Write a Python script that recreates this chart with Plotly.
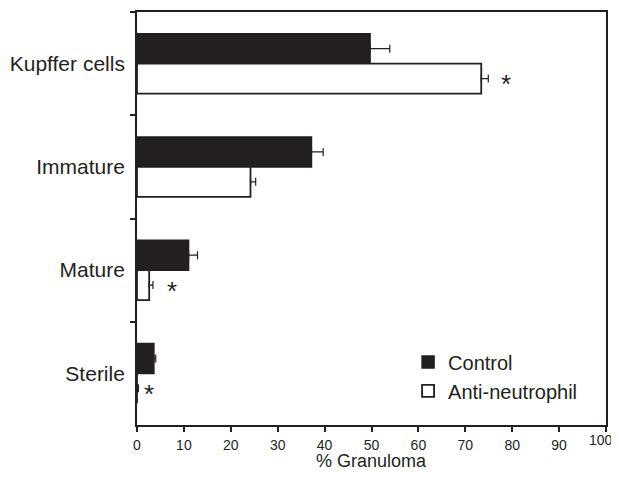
import plotly.graph_objects as go

categories = ["Kupffer cells", "Immature", "Mature", "Sterile"]
control = [49.7, 37.2, 11.0, 3.6]
control_err = [4.2, 2.5, 1.9, 0.4]
anti = [73.4, 24.2, 2.6, 0.0]
anti_err = [1.5, 1.1, 0.8, 0.3]
star_x = [78.6, 7.5, 2.6]
star_y = [0.16, 2.16, 3.16]
x_ticks = list(range(0, 101, 10))
x_title = "% Granuloma"

FONT = "Liberation Sans, Arial, sans-serif"
INK = "#231f20"

fig = go.Figure()
fig.add_trace(go.Bar(
    y=categories, x=control, orientation="h", name="Control",
    marker=dict(color=INK, line=dict(color=INK, width=1.5)),
    error_x=dict(type="data", array=control_err, arrayminus=[0]*4, symmetric=False,
                 color=INK, thickness=1.2, width=4),
))
fig.add_trace(go.Bar(
    y=categories, x=anti, orientation="h", name="Anti-neutrophil",
    marker=dict(color="white", line=dict(color=INK, width=1.8)),
    error_x=dict(type="data", array=anti_err, arrayminus=[0]*4, symmetric=False,
                 color=INK, thickness=1.2, width=4),
))

for sx, sy in zip(star_x, star_y):
    fig.add_annotation(x=sx, y=sy, xref="x", yref="y", text="*", showarrow=False,
                       font=dict(family=FONT, size=26, color=INK), yshift=-4)

# last tick label sits at the very edge of the page: drawn right-anchored so it stays visible
fig.add_annotation(x=x_ticks[-1], y=0, xref="x", yref="paper", text=str(x_ticks[-1]),
                   xanchor="right", yanchor="top", showarrow=False, xshift=9, yshift=-5,
                   font=dict(family=FONT, size=14, color=INK))

# x-axis title placed in the bottom margin
fig.add_annotation(x=0.5, y=0, xref="paper", yref="paper", text=x_title,
                   xanchor="center", yanchor="middle", showarrow=False, yshift=-36,
                   font=dict(family=FONT, size=18, color=INK))

# page body has an 8px margin: figure sized to fit the 619x480 window
fig.update_layout(
    width=603, height=464,
    margin=dict(l=129, r=5, t=4, b=47),
    paper_bgcolor="white", plot_bgcolor="white",
    barmode="group", bargap=0.42, bargroupgap=0,
    font=dict(family=FONT, color=INK),
    legend=dict(x=0.578, y=0.2, xanchor="left", yanchor="top",
                font=dict(family=FONT, size=20, color=INK),
                bgcolor="rgba(0,0,0,0)", itemwidth=30, tracegroupgap=0),
    showlegend=True,
)
fig.update_xaxes(
    range=[0, 100], tickvals=x_ticks,
    ticktext=[str(v) for v in x_ticks[:-1]] + [""],
    ticks="outside", ticklen=5, tickwidth=1.5,
    tickcolor=INK, showline=True, linecolor=INK, linewidth=1.8, mirror=True,
    showgrid=False, zeroline=False, ticklabelstandoff=1, automargin=False,
    tickfont=dict(family=FONT, size=14, color=INK),
)
fig.update_yaxes(
    autorange="reversed", ticks="outside", tickson="boundaries", ticklen=5, tickwidth=1.5,
    tickcolor=INK, showline=True, linecolor=INK, linewidth=1.8, mirror=True,
    showgrid=False, tickfont=dict(family=FONT, size=21, color=INK), ticklabelstandoff=6,
    automargin=False,
)

fig.write_html("out.html")
